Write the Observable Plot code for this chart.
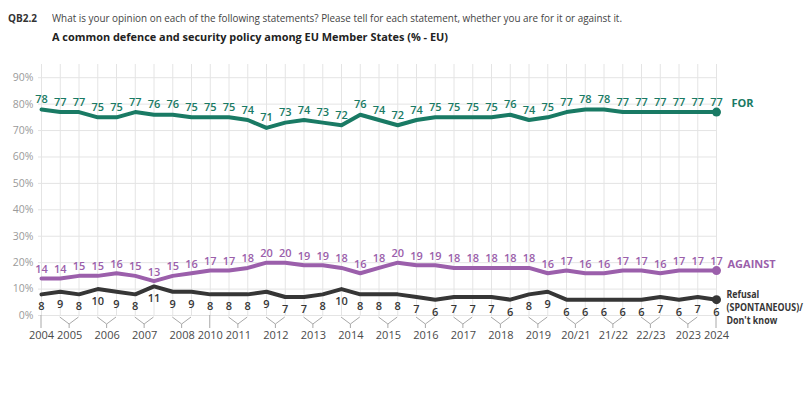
<!DOCTYPE html>
<html><head><meta charset="utf-8">
<script src="https://cdn.jsdelivr.net/npm/d3@7"></script>
<script src="https://cdn.jsdelivr.net/npm/@observablehq/plot@0.6"></script>
<style>
body{margin:0;background:#fff;font-family:"Open Sans",sans-serif;}
#head{position:relative;height:48px;width:805px;}
#head span{position:absolute;display:inline-block;white-space:nowrap;transform-origin:0 50%;font-size:11px;line-height:14px;}
#chart svg{display:block;}
</style></head>
<body>
<div id="head">
  <span data-w="29" style="left:8px;top:11px;font-weight:700;color:#333">QB2.2</span>
  <span data-w="570" style="left:52px;top:11px;color:#444">What is your opinion on each of the following statements? Please tell for each statement, whether you are for it or against it.</span>
  <span data-w="396" style="left:52px;top:30px;font-weight:700;color:#222">A common defence and security policy among EU Member States (% - EU)</span>
</div>
<div id="chart"></div>
<script>
// ---- data ----
const forValues     = [78,77,77,75,75,77,76,76,75,75,75,74,71,73,74,73,72,76,74,72,74,75,75,75,75,76,74,75,77,78,78,77,77,77,77,77,77];
const againstValues = [14,14,15,15,16,15,13,15,16,17,17,18,20,20,19,19,18,16,18,20,19,19,18,18,18,18,18,16,17,16,16,17,17,16,17,17,17];
const dkValues      = [8,9,8,10,9,8,11,9,9,8,8,8,9,7,7,8,10,8,8,8,7,6,7,7,7,6,8,9,6,6,6,6,6,7,6,7,6];
const periodLabels  = ["2004","2005","2006","2007","2008","2010","2011","2012","2013","2014","2015","2016","2017","2018","2019","20/21","21/22","22/23","2023","2024"];
const periodSizes   = [1,2,2,2,2,1,2,2,2,2,2,2,2,2,2,2,2,2,2,1];
const yTicks        = [0,10,20,30,40,50,60,70,80,90];
const seriesNames   = ["FOR","AGAINST","Refusal\n(SPONTANEOUS)/\nDon't know"];

// ---- derived tables ----
const rows = forValues.map((v,i)=>({i, for:v, against:againstValues[i], dk:dkValues[i]}));
let start = 0;
const groups = periodLabels.map((label,k)=>{
  const g = {label, start, size:periodSizes[k], center:start+(periodSizes[k]-1)/2};
  start += periodSizes[k];
  return g;
});

const C_FOR="#197a64", C_AG="#9b5fab", C_DK="#363636";

const brackets = (index, scales) => {
  const g = d3.create("svg:g").attr("fill","none").attr("stroke","#a8a8a8").attr("stroke-width",1);
  const y0 = scales.y(0);
  for (const gr of groups) {
    if (gr.size === 1) {
      const x = scales.x(gr.start);
      g.append("path").attr("d",`M${x},${y0}V${y0+13}`);
    } else {
      const xa = scales.x(gr.start), xb = scales.x(gr.start+gr.size-1), xc=(xa+xb)/2;
      g.append("path").attr("d",`M${xa},${y0+2}L${xc},${y0+9}L${xb},${y0+2}M${xc},${y0+9}V${y0+13}`);
    }
  }
  return g.node();
};

const lbl = {fontSize:11, fontWeight:600, fontFamily:"Open Sans"};

const plot = Plot.plot({
  width:805, height:369,
  marginLeft:41, marginRight:89, marginTop:16, marginBottom:102,
  x:{domain:[0,36], axis:null},
  y:{domain:[0,95], axis:null},
  style:{fontFamily:"Open Sans", background:"#fff", overflow:"visible"},
  marks:[
    Plot.ruleX(rows, {x:"i", y1:0, y2:95, stroke:"#e4e4e4", strokeWidth:1}),
    Plot.ruleY(yTicks, {y:d=>d, stroke:"#e4e4e4", strokeWidth:1, insetLeft:-3}),
    Plot.text(yTicks, {x:0, y:d=>d, text:d=>d+"%", textAnchor:"end", dx:-8, fill:"#9a9a9a", fontSize:10.5}),
    brackets,
    Plot.text(groups, {x:"center", y:()=>0, text:"label", dy:20, fill:"#4a4a4a", fontSize:11}),
    Plot.line(rows, {x:"i", y:"dk", stroke:C_DK, strokeWidth:4}),
    Plot.line(rows, {x:"i", y:"against", stroke:C_AG, strokeWidth:4}),
    Plot.line(rows, {x:"i", y:"for", stroke:C_FOR, strokeWidth:4}),
    Plot.dot(rows, Plot.selectLast({x:"i", y:"dk", fill:C_DK, r:4.5})),
    Plot.dot(rows, Plot.selectLast({x:"i", y:"against", fill:C_AG, r:4.5})),
    Plot.dot(rows, Plot.selectLast({x:"i", y:"for", fill:C_FOR, r:4.5})),
    Plot.text(rows, {x:"i", y:"for", text:"for", dy:-10, fill:C_FOR, ...lbl}),
    Plot.text(rows, {x:"i", y:"against", text:"against", dy:-9, fill:C_AG, ...lbl}),
    Plot.text(rows, {x:"i", y:"dk", text:"dk", dy:12.5, fill:C_DK, ...lbl}),
    Plot.text(rows, Plot.selectLast({x:"i", y:"for", text:()=>seriesNames[0], dx:15, dy:-9, textAnchor:"start", fill:C_FOR, fontSize:11, fontWeight:700})),
    Plot.text(rows, Plot.selectLast({x:"i", y:"against", text:()=>seriesNames[1], dx:11, dy:-6, textAnchor:"start", fill:C_AG, fontSize:11, fontWeight:700})),
    Plot.text(rows, Plot.selectLast({x:"i", y:"dk", text:()=>seriesNames[2], dx:10, dy:7, textAnchor:"start", fill:C_DK, fontSize:10.5, fontWeight:700, lineHeight:1.22, className:"dklabel"}))
  ]
});
document.getElementById("chart").appendChild(plot);

// condense the long right-hand label so it fits like the reference
plot.querySelectorAll("text").forEach(t=>{
  if (!t.textContent.includes("SPONTANEOUS")) return;
  const b = t.getBBox();
  const maxW = 77;
  if (b.width > maxW) {
    const s = maxW / b.width;
    const tr = t.getAttribute("transform") || "";
    t.setAttribute("transform", `${tr} translate(${b.x},0) scale(${s},1) translate(${-b.x},0)`);
  }
});

document.querySelectorAll("#head [data-w]").forEach(el=>{
  const w = el.getBoundingClientRect().width;
  if (w>0) el.style.transform = `scaleX(${(+el.dataset.w)/w})`;
});
</script>
</body></html>
